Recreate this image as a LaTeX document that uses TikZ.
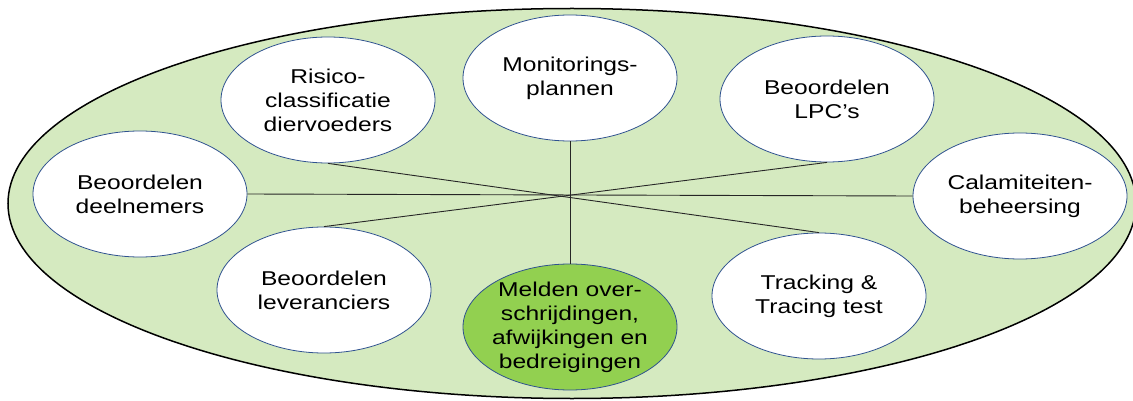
\documentclass[tikz,border=0pt]{standalone}
\usepackage{fontspec}
\setmainfont{Liberation Sans}
\newfontfamily\arialx[FakeStretch=1.23]{Liberation Sans}
\usetikzlibrary{shapes.geometric}
\definecolor{bggreen}{RGB}{213,234,192}
\definecolor{hotgreen}{RGB}{146,208,80}
\definecolor{rimblue}{RGB}{47,82,143}
\tikzset{
  bub/.style={ellipse, draw=rimblue, line width=0.8pt, fill=white, inner sep=0pt,
              minimum width=214pt, minimum height=126pt},
  txt/.style={align=center, inner sep=0pt, font=\arialx\fontsize{20}{24}\selectfont},
  spoke/.style={draw=black!85, line width=0.9pt}
}
\begin{document}
\begin{tikzpicture}[x=1pt,y=-1pt]
\useasboundingbox (0,0) rectangle (1133,401);
\fill[white] (0,0) rectangle (1133,401);
\draw[fill=bggreen, line width=1.5pt] (572,203.5) ellipse [x radius=564, y radius=195];
% ellipses
\node[bub] (ris) at (328,100) {};
\node[bub] (mon) at (570,78) {};
\node[bub] (lpc) at (827,99) {};
\node[bub] (dee) at (140,194) {};
\node[bub] (cal) at (1020,196) {};
\node[bub] (lev) at (324,290) {};
\node[bub, fill=hotgreen] (mel) at (570,327) {};
\node[bub] (tra) at (819,296) {};
% spokes
\draw[spoke] (ris.south) -- (tra.north);
\draw[spoke] (lpc.south) -- (lev.north);
\draw[spoke] (dee.east) -- (cal.west);
\draw[spoke] (mon.south) -- (mel.north);
% texts
\node[txt] (tris) at (ris) {Risico-\\classificatie\\diervoeders};
\node[txt] (tmon) at (mon) {Monitorings-\\plannen};
\node[txt] (tlpc) at (lpc) {Beoordelen\\LPC’s};
\node[txt] (tdee) at (dee) {Beoordelen\\deelnemers};
\node[txt] (tcal) at (cal) {Calamiteiten-\\beheersing};
\node[txt] (tlev) at (lev) {Beoordelen\\leveranciers};
\node[txt] (tmel) at (mel) {Melden over-\\schrijdingen,\\afwijkingen en\\bedreigingen};
\node[txt] (ttra) at (tra) {Tracking \&\\Tracing test};
\end{tikzpicture}
\end{document}
